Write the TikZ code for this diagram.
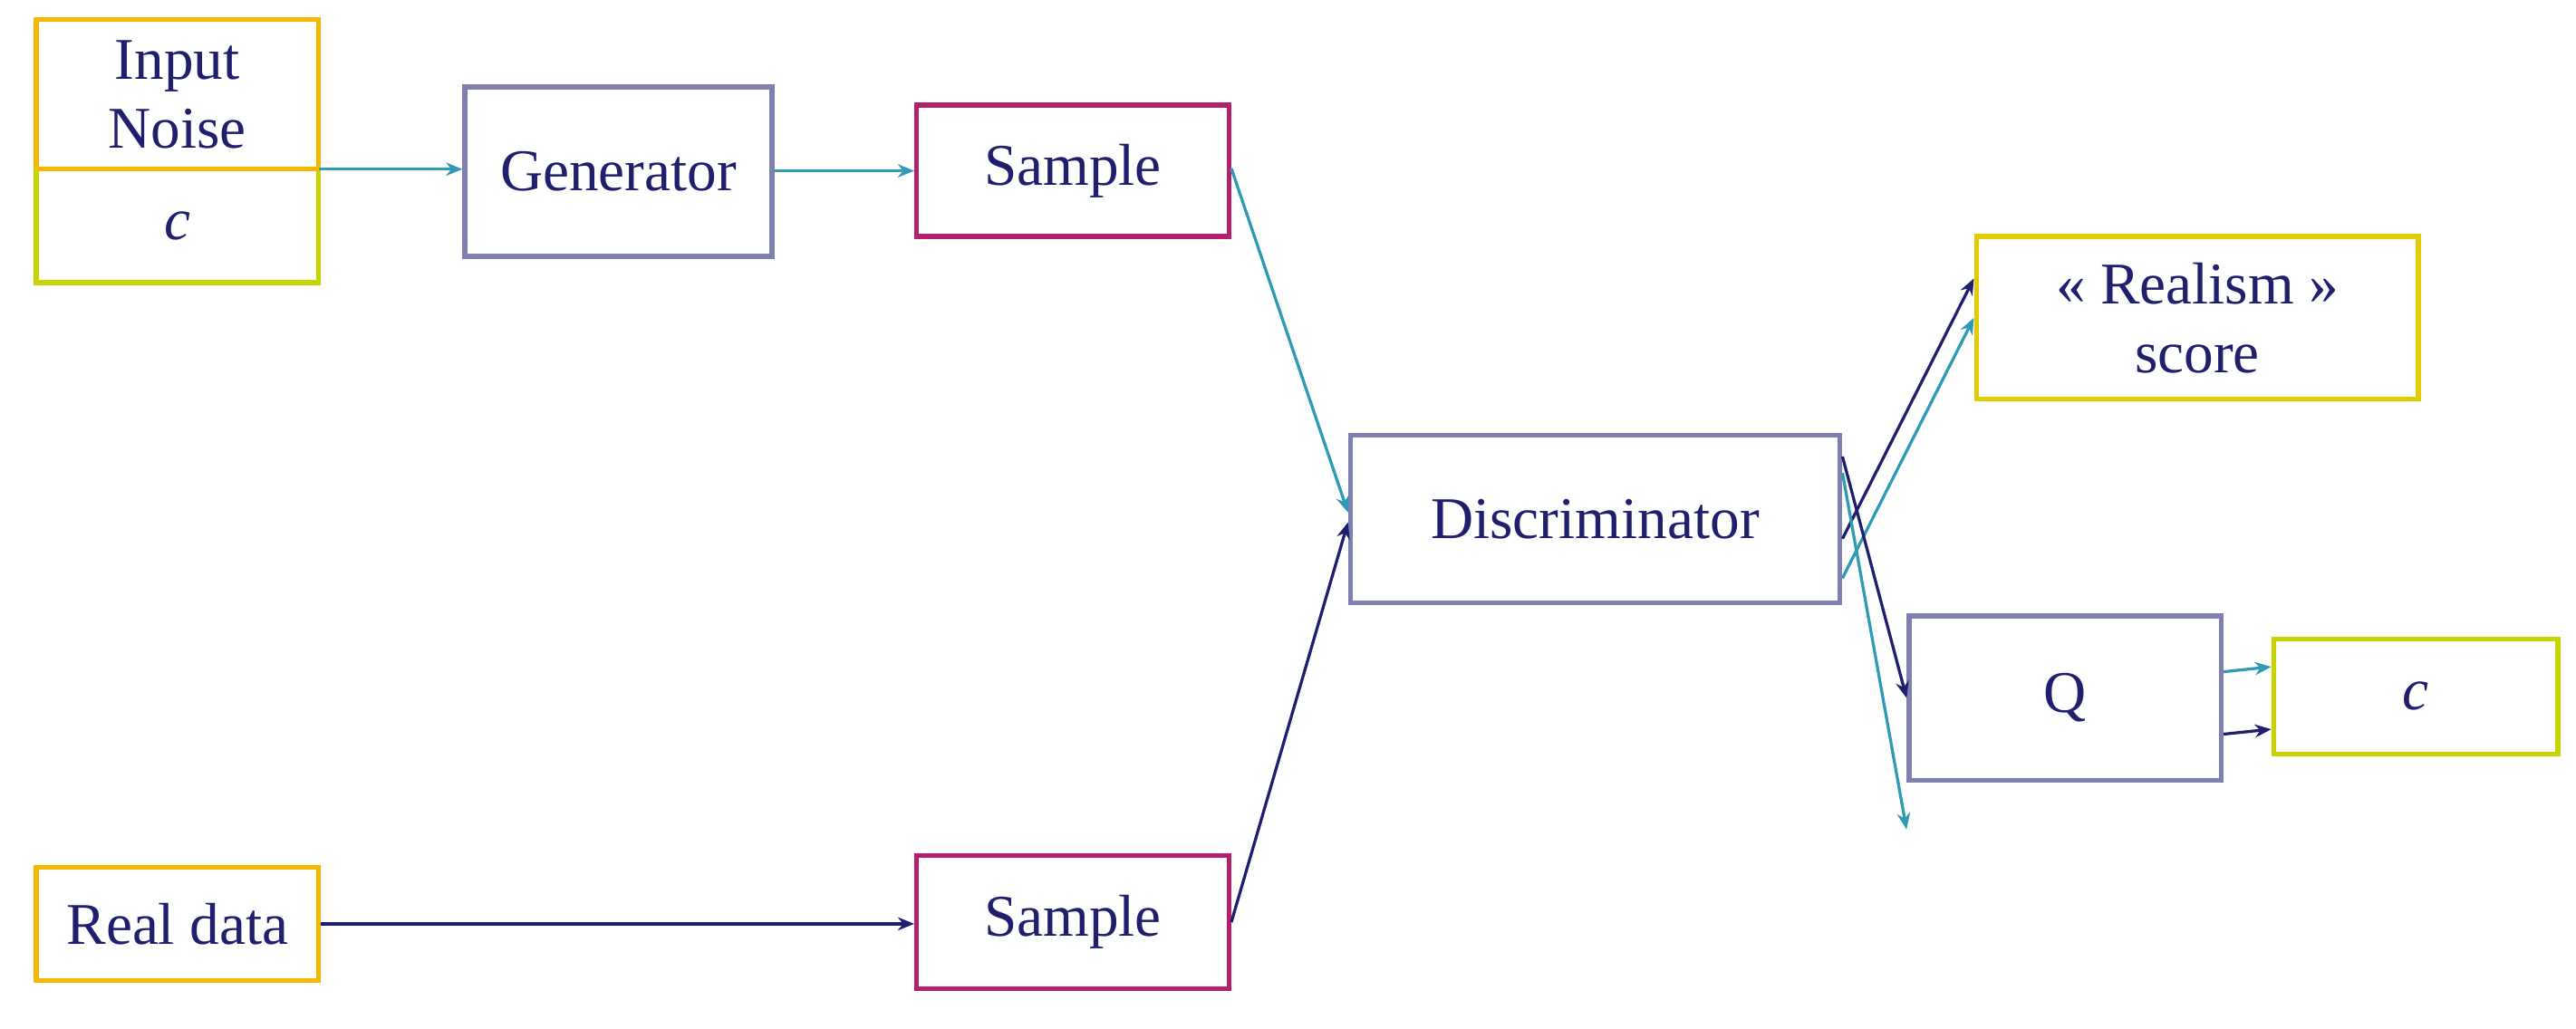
\documentclass[tikz,border=0pt]{standalone}
\usepackage{fontspec}
\setmainfont{Liberation Serif}
\usetikzlibrary{arrows.meta}
\definecolor{teal2}{HTML}{2E9AB3}
\definecolor{navy}{HTML}{1F1F6E}
\definecolor{gray2}{HTML}{8080B0}
\definecolor{mag}{HTML}{B5206E}
\definecolor{orng}{HTML}{F5B800}
\definecolor{ygreen}{HTML}{C8D400}
\definecolor{yel}{HTML}{E0CC00}
\begin{document}
\begin{tikzpicture}[x=0.5pt,y=-0.5pt,
 box/.style={draw=#1,line width=1.5pt,inner sep=0pt,text=navy,font=\fontsize{18}{21}\selectfont,align=center},
 a/.style={-{Stealth[length=5pt,width=4pt]},line width=0.9pt},
 t/.style={a,teal2},n/.style={a,navy}]
\useasboundingbox (0,0) rectangle (1568,626);
\node[box=orng,minimum width=86pt,minimum height=45.5pt] (noise) at (108,57.5) {Input\\Noise};
\node[box=ygreen,minimum width=86pt,minimum height=34.5pt] (c1) at (108,137.5) {\textit{c}};
\draw[orng,line width=1.5pt] (22,103)--(194,103);
\node[box=gray2,minimum width=93.5pt,minimum height=51.5pt] (gen) at (376.5,104.5) {Generator};
\node[box=mag,minimum width=95pt,minimum height=40pt] (s1) at (653,104) {Sample};
\node[box=orng,minimum width=86pt,minimum height=34.5pt] (real) at (108,562.5) {Real data};
\node[box=mag,minimum width=95pt,minimum height=40.5pt] (s2) at (653,561.5) {Sample};
\node[box=gray2,minimum width=149pt,minimum height=51pt] (disc) at (971,316) {Discriminator};
\node[box=yel,minimum width=134.5pt,minimum height=49.5pt] (real2) at (1337.5,193.5) {« Realism »\\score};
\node[box=gray2,minimum width=95pt,minimum height=50pt] (q) at (1257,425) {Q};
\node[box=ygreen,minimum width=86.5pt,minimum height=35pt] (c2) at (1470.5,424) {\textit{c}};
\coordinate (nc) at (194,103);
\draw[t] (nc) -- (gen.west|-nc);
\draw[t] (gen.east|-s1) -- (s1.west);
\draw[t] (s1.north east) ++(0,40) -- ([yshift=2]disc.west);
\draw[n] (s2.east) -- ([yshift=-1]disc.west);
\draw[n] (real.east) -- (s2.west|-real.east);
\draw[t] ([yshift=-18]disc.east) -- ([yshift=0]real2.west);
\draw[n] ([yshift=-6]disc.east) -- ([yshift=12]real2.west);
\draw[t] ([yshift=14]disc.east) -- ([yshift=-40]q.west);
\draw[n] ([yshift=19]disc.east) -- ([yshift=0]q.west);
\draw[n] ([yshift=-11]q.east) -- ([yshift=-10]c2.west);
\draw[t] ([yshift=8]q.east) -- ([yshift=9]c2.west);
\end{tikzpicture}
\end{document}
